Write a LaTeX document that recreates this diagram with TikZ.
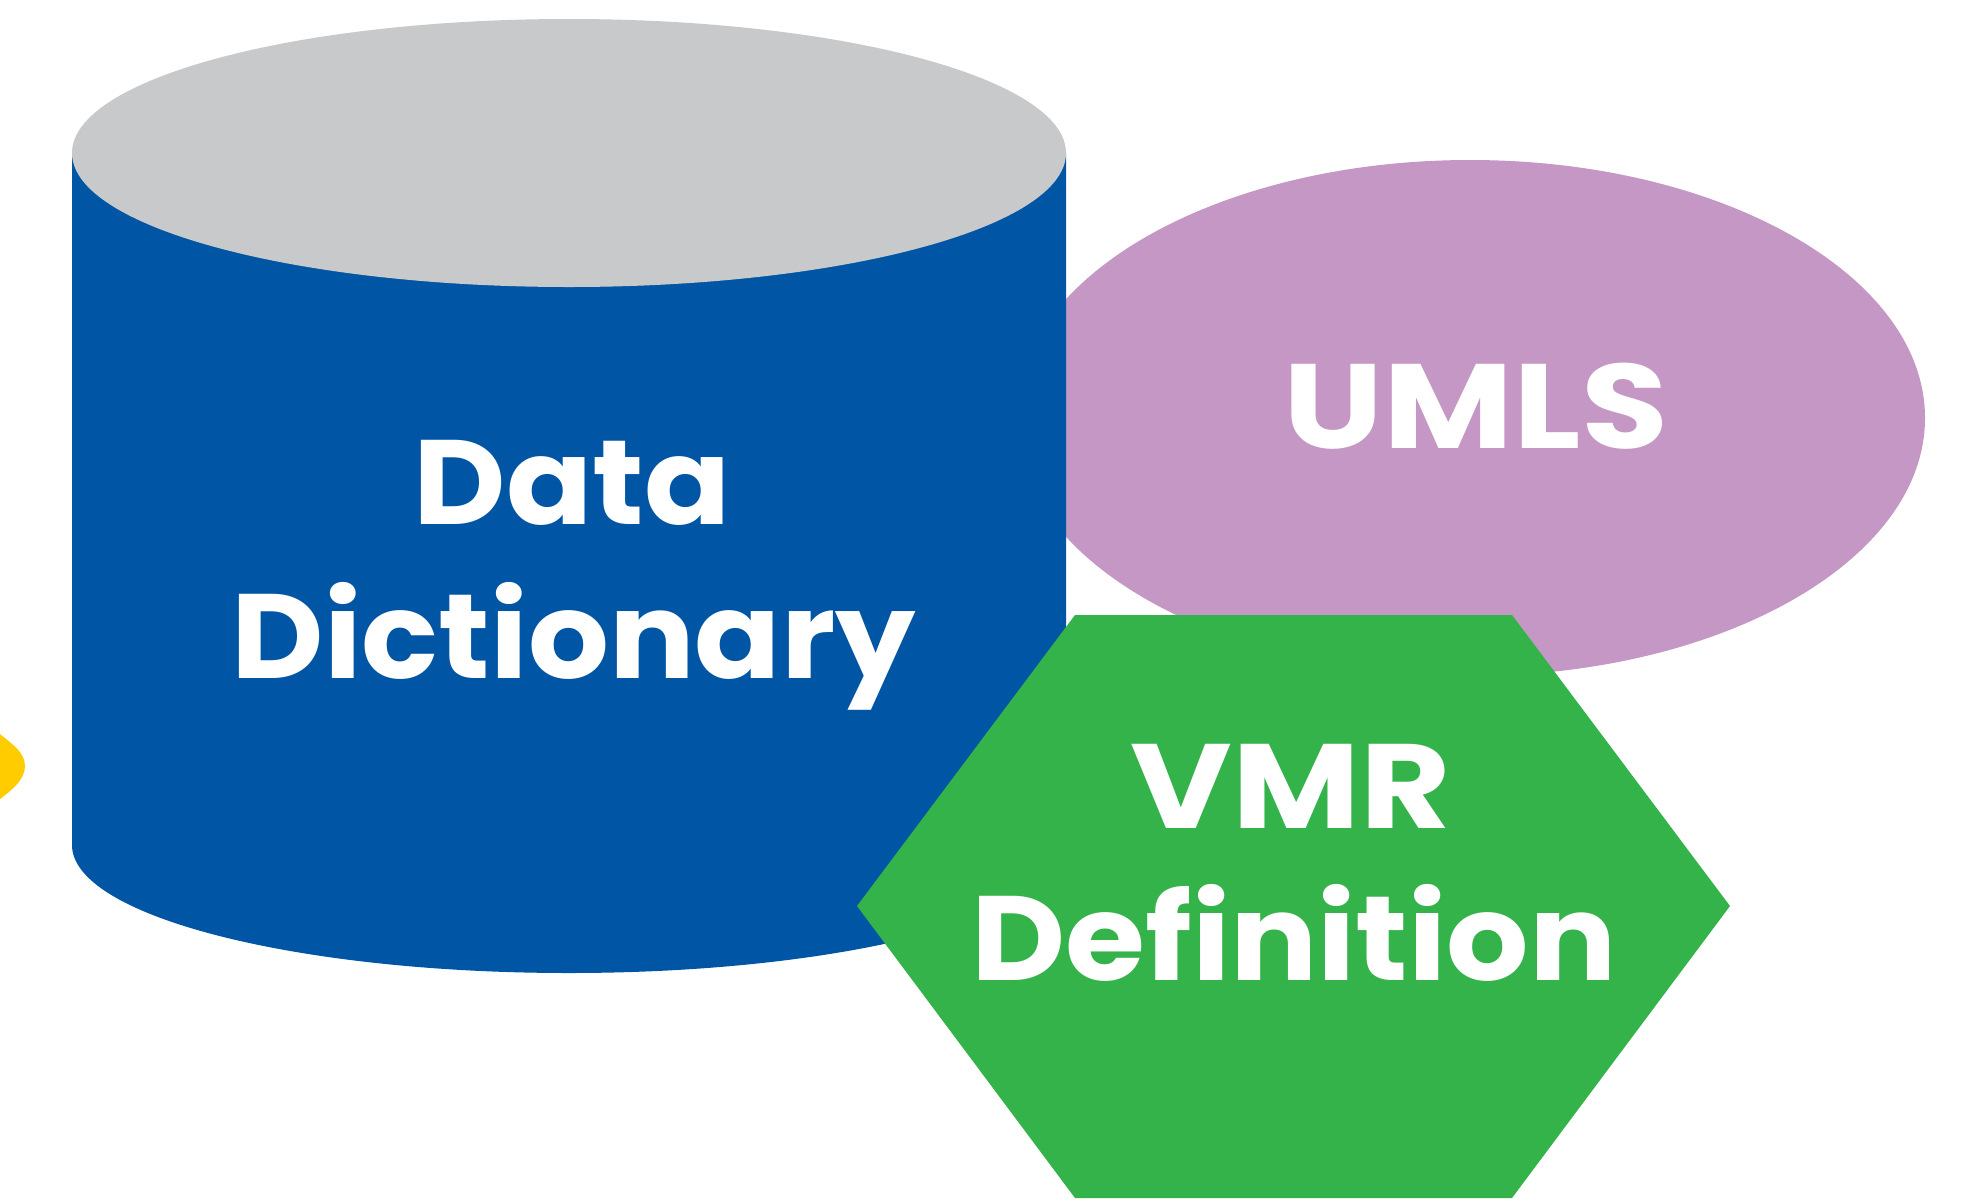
\documentclass[tikz,border=0pt]{standalone}
\usepackage{fontspec}
\setmainfont{Poppins}
\usepackage{xcolor}
\usepackage{tikz}
\definecolor{dictblue}{RGB}{0,85,164}
\definecolor{lidgray}{RGB}{200,201,202}
\definecolor{umlspurple}{RGB}{196,151,196}
\definecolor{vmrgreen}{RGB}{52,179,74}
\definecolor{edgeyellow}{RGB}{255,204,0}
\newcommand{\widetext}[2]{\scalebox{#1}[1]{#2}}
\tikzset{
    label text/.style = {text = white, font = \fontsize{60}{72}\selectfont\bfseries, anchor = base, inner sep = 0pt}
}

\begin{document}
\begin{tikzpicture}[x = 0.5pt, y = -0.5pt]
        \useasboundingbox (0, 0) rectangle (1961, 1201);

        % UMLS ellipse, behind the cylinder
        \fill[color = umlspurple] (1470, 418) ellipse[x radius = 455, y radius = 258];

        % cylinder
        \fill[color = dictblue] (72, 153) -- (72, 845)
            arc[start angle = 180, end angle = 0, x radius = 497, y radius = 128]
            -- (1066, 153) -- cycle;
        \fill[color = lidgray] (569, 153) ellipse[x radius = 497, y radius = 134];

        % hexagon
        \fill[color = vmrgreen] (1075, 615) -- (1512, 615) -- (1730, 906)
            -- (1512, 1198) -- (1075, 1198) -- (857, 906) -- cycle;

        % cut-off shape at the left edge
        \fill[color = edgeyellow] (-5, 730) .. controls (12, 744) and (25, 752) .. (25, 766)
            .. controls (25, 780) and (12, 790) .. (-5, 803) -- cycle;

        \node[label text] (data) at (572, 524) {\widetext{1.06}{Data}};
        \node[label text] (dictionary) at (574, 678) {\widetext{1.06}{Dictionary}};
        \node[label text] (umls) at (1476, 448) {\widetext{1.18}{UMLS}};
        \node[label text] (vmr) at (1291, 828) {\widetext{1.16}{VMR}};
        \node[label text] (definition) at (1294, 980) {\widetext{1.08}{Definition}};
    \end{tikzpicture}
\end{document}
